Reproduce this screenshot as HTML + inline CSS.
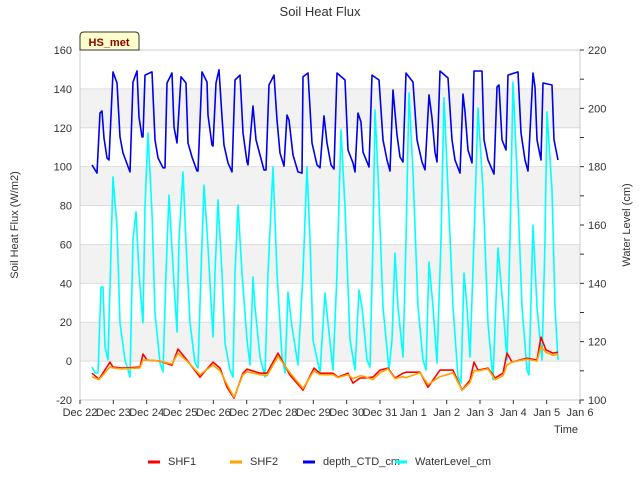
<!DOCTYPE html>
<html><head><meta charset="utf-8"><style>
body{margin:0;background:#fff;}
svg{display:block;font-family:"Liberation Sans","DejaVu Sans",sans-serif;}
</style></head><body>
<svg id="chart" width="640" height="480" viewBox="0 0 640 480">
<text x="320" y="16" text-anchor="middle" font-size="13" fill="#333">Soil Heat Flux</text>
<g id="bands"></g>
<g id="grid"></g>
<rect x="80" y="50" width="500" height="350" fill="none" stroke="#ccc"/>
<g id="series"></g>
<g id="axes" font-size="11" fill="#333"></g>
<text transform="translate(18,225) rotate(-90)" text-anchor="middle" font-size="11" fill="#333">Soil Heat Flux (W/m2)</text>
<text transform="translate(630,225) rotate(-90)" text-anchor="middle" font-size="11" fill="#333">Water Level (cm)</text>
<text x="578" y="433" text-anchor="end" font-size="11" fill="#333">Time</text>
<g>
<path d="M80,50 L80,36 Q80,32 84,32 L135,32 Q139,32 139,36 L139,50 Z" fill="#ffffcc" stroke="#333"/>
<text x="109" y="46" text-anchor="middle" font-size="11" font-weight="bold" fill="#8b0000">HS_met</text>
</g>
<g id="legend" font-size="11" fill="#333"></g>
</svg>
<script>
const dayLabels=["Dec 22","Dec 23","Dec 24","Dec 25","Dec 26","Dec 27","Dec 28","Dec 29","Dec 30","Dec 31","Jan 1","Jan 2","Jan 3","Jan 4","Jan 5","Jan 6"];
const leftTicks=[-20,0,20,40,60,80,100,120,140,160];
const rightTicks=[100,120,140,160,180,200,220];
const depthT=[.36,.51,.60,.66,.72,.81,.87,.99,1.11,1.20,1.29,1.50,1.59,1.71,1.77,1.86,1.89,1.95,2.16,2.25,2.34,2.49,2.55,2.61,2.76,2.82,2.91,3.03,3.18,3.24,3.36,3.51,3.54,3.66,3.81,3.84,3.96,3.99,4.08,4.17,4.26,4.32,4.44,4.56,4.65,4.80,4.89,5.01,5.04,5.19,5.28,5.40,5.52,5.58,5.67,5.82,5.91,6.00,6.12,6.21,6.27,6.39,6.54,6.66,6.69,6.84,6.96,7.11,7.20,7.32,7.41,7.53,7.62,7.71,7.95,8.04,8.19,8.25,8.34,8.43,8.49,8.67,8.76,8.97,9.09,9.21,9.30,9.39,9.51,9.60,9.69,9.78,9.99,10.11,10.26,10.35,10.47,10.56,10.65,10.71,10.80,11.04,11.16,11.25,11.40,11.49,11.55,11.64,11.76,11.82,12.06,12.12,12.24,12.42,12.51,12.57,12.66,12.78,12.84,13.14,13.23,13.35,13.44,13.59,13.65,13.71,13.83,13.89,14.16,14.22,14.34];
const depthV=[180.6,177.8,198.4,199.1,189.8,183.0,182.3,212.5,208.7,190.2,184.7,178.2,209.0,212.8,197.0,190.2,190.2,211.4,212.5,189.2,183.0,179.6,179.6,208.7,212.1,193.6,188.1,210.8,208.7,188.1,183.3,178.5,178.5,212.5,209.0,197.7,187.4,187.1,208.7,213.2,197.0,187.4,181.3,178.2,209.7,211.4,191.6,181.6,180.6,200.8,189.2,184.0,178.9,178.9,208.0,211.4,196.0,184.7,180.2,197.7,196.0,184.0,178.2,177.8,210.8,212.1,188.1,180.6,179.6,197.4,188.1,180.6,179.2,212.1,209.7,185.7,181.3,178.2,198.4,195.3,185.0,179.9,211.4,209.7,189.2,182.3,178.5,206.3,190.9,183.3,181.6,212.1,209.0,189.2,181.6,178.9,204.6,196.7,185.0,181.6,212.8,210.4,189.2,182.3,177.8,204.9,198.8,185.7,181.3,212.8,212.8,189.2,182.3,177.5,207.3,208.0,189.2,185.7,211.4,212.5,191.6,182.3,178.5,212.1,207.3,189.2,182.3,208.7,208.0,189.2,182.3];
const waterT=[.36,.45,.54,.63,.69,.75,.84,.99,1.11,1.20,1.35,1.50,1.59,1.68,1.77,1.89,1.95,2.04,2.16,2.25,2.40,2.49,2.58,2.67,2.79,2.91,2.97,3.09,3.18,3.30,3.45,3.54,3.63,3.72,3.84,3.99,4.05,4.14,4.26,4.35,4.50,4.59,4.65,4.74,4.86,5.01,5.10,5.19,5.25,5.40,5.55,5.64,5.79,5.91,6.06,6.15,6.24,6.36,6.54,6.69,6.81,6.90,6.99,7.20,7.35,7.44,7.59,7.71,7.83,7.95,8.10,8.25,8.37,8.46,8.61,8.70,8.79,8.85,8.94,9.09,9.27,9.36,9.45,9.54,9.69,9.78,9.87,9.99,10.14,10.29,10.38,10.47,10.59,10.71,10.83,10.92,11.04,11.19,11.34,11.43,11.52,11.61,11.70,11.82,11.94,12.09,12.24,12.39,12.54,12.69,12.81,12.90,12.99,13.11,13.26,13.41,13.47,13.59,13.71,13.86,13.95,14.01,14.16,14.25,14.34];
const waterV=[111.3,109.3,109.3,138.7,138.7,118.2,113.7,176.5,159.3,126.4,113.7,107.9,154.9,164.5,143.5,126.4,166.2,191.6,164.1,129.8,112.7,109.6,143.5,170.3,145.6,123.3,154.9,178.2,153.8,126.4,112.7,111.0,143.5,173.7,152.5,121.6,143.5,168.6,143.5,119.5,110.3,107.9,143.5,166.9,143.5,120.6,112.0,142.2,131.9,114.7,107.9,143.5,179.9,143.5,114.7,109.3,137.0,125.0,112.0,143.5,179.9,154.9,120.6,109.3,136.7,126.4,110.3,143.5,192.6,166.2,120.6,110.3,137.7,131.9,113.7,111.3,154.9,199.4,177.8,131.9,110.3,120.6,150.4,131.9,114.7,154.9,205.3,177.8,131.9,113.7,110.3,147.3,131.9,112.7,154.9,203.6,172.0,131.9,107.9,105.8,143.5,131.9,114.7,154.9,200.1,172.0,126.4,106.9,152.1,131.9,113.7,154.9,209.0,177.8,131.9,110.3,108.6,160.0,131.9,113.7,154.9,198.8,172.0,131.9,113.7];
const shfT=[.36,.57,.90,.99,1.26,1.80,1.89,2.01,2.40,2.76,2.94,3.21,3.60,3.99,4.20,4.41,4.62,4.89,5.01,5.40,5.61,5.94,6.30,6.69,7.02,7.20,7.59,7.74,8.04,8.19,8.40,8.55,8.79,9.00,9.24,9.45,9.69,9.78,10.20,10.44,10.80,11.19,11.46,11.70,11.82,11.94,12.24,12.45,12.69,12.81,12.96,13.41,13.71,13.83,13.98,14.19,14.34];
const shf1V=[-6.2,-9.3,-0.5,-3.1,-3.6,-3.1,3.6,0.5,0,-2.1,6.2,0.5,-8.2,-0.5,-3.6,-13.4,-19.0,-6.2,-4.1,-6.2,-6.2,4.1,-7.2,-14.9,-3.6,-6.2,-6.2,-8.2,-6.2,-11.3,-8.7,-8.7,-8.2,-4.6,-3.6,-8.7,-6.2,-5.7,-5.7,-13.4,-4.6,-4.6,-14.9,-9.8,-0.5,-4.6,-3.6,-8.7,-6.2,4.1,-0.5,1.5,0.5,12.3,5.7,4.1,4.6];
const shf2V=[-8,-9.5,-3,-3.5,-4,-3.5,0.5,0.5,0,-1.5,4,0,-7,-2,-5,-12,-18.5,-7,-5.5,-7,-7.5,2.5,-6,-14,-5,-7,-7,-8.5,-7,-9,-7.5,-8,-9.5,-6,-4,-9,-8,-8.5,-6,-12,-8,-6,-15,-11,-5,-5,-4,-9.5,-7.5,-2,-0.5,1,0,7.5,4.5,3,3.5];

const NS="http://www.w3.org/2000/svg";
const X0=80,X1=580,Y0=400,Y1=50;
const xs=d=>X0+d*(X1-X0)/15;
const yl=v=>Y0-(v+20)*(Y0-Y1)/180;
const yr=v=>Y0-(v-100)*(Y0-Y1)/120;
function mk(tag,attrs,parent){const e=document.createElementNS(NS,tag);for(const k in attrs)e.setAttribute(k,attrs[k]);parent.appendChild(e);return e;}
const bands=document.getElementById('bands'),grid=document.getElementById('grid'),axes=document.getElementById('axes'),series=document.getElementById('series'),legend=document.getElementById('legend');
for(let i=0;i<leftTicks.length-1;i++){
  if(i%2===1){const r=mk('rect',{x:X0,y:yl(leftTicks[i+1]),width:X1-X0,height:yl(leftTicks[i])-yl(leftTicks[i+1]),fill:'#f2f2f2'},bands);
  
  }
}
leftTicks.forEach(v=>{
  const l=mk('line',{x1:X0,x2:X1,y1:yl(v),y2:yl(v),stroke:'#ddd'},grid);
  
  
  const t=mk('text',{x:72,y:yl(v)+4,'text-anchor':'end'},axes);t.textContent=v;
  
  
});
rightTicks.forEach((v,i)=>{
  mk('line',{x1:X1,x2:X1+4,y1:yr(v),y2:yr(v),stroke:'#333'},axes);
  if(i<rightTicks.length-1)mk('line',{x1:X1,x2:X1+4,y1:yr(v+10),y2:yr(v+10),stroke:'#333'},axes);
  const t=mk('text',{x:588,y:yr(v)+4},axes);t.textContent=v;
  
  
});
dayLabels.forEach((s,i)=>{
  mk('line',{x1:xs(i),x2:xs(i),y1:Y0,y2:Y0+4,stroke:'#333'},axes);
  const t=mk('text',{x:xs(i),y:416,'text-anchor':'middle'},axes);t.textContent=s;
  
  
});
function line(T,V,yf,color,name){
  const p=mk('polyline',{points:T.map((t,i)=>xs(t).toFixed(1)+','+yf(V[i]).toFixed(1)).join(' '),fill:'none',stroke:color,'stroke-width':1.6,'stroke-linejoin':'round'},series);
  
  
}
line(depthT,depthV,yr,'#0000ee','depth-ctd-line');
line(waterT,waterV,yr,'#00ffff','water-level-line');
line(shfT,shf1V,yl,'#ff0000','shf1-line');
line(shfT,shf2V,yl,'#ffa500','shf2-line');
[["SHF1","#ff0000",148],["SHF2","#ffa500",230],["depth_CTD_cm","#0000ee",303],["WaterLevel_cm","#00ffff",395]].forEach(([n,c,x])=>{
  const g=mk('g',{},legend);
  
  
  mk('line',{x1:x,x2:x+12,y1:462,y2:462,stroke:c,'stroke-width':3},g);
  const t=mk('text',{x:x+20,y:465},g);t.textContent=n;
});
</script>
</body></html>
